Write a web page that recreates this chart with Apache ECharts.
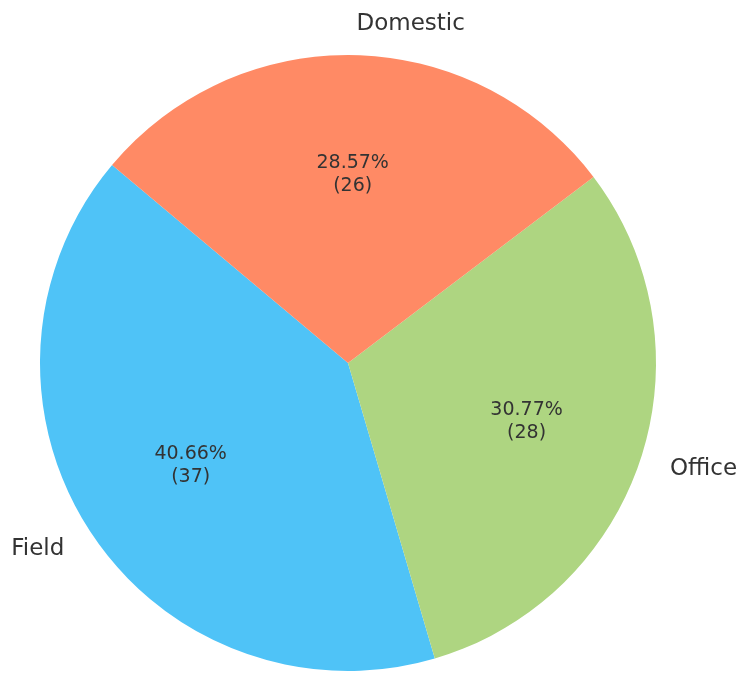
<!DOCTYPE html>
<html>
<head>
<meta charset="utf-8">
<script src="https://cdn.jsdelivr.net/npm/echarts@6/dist/echarts.min.js"></script>
<style>html,body{margin:0;padding:0;background:#fff;}#c{width:750px;height:689px;}</style>
</head>
<body>
<div id="c"></div>
<script>
const categories = ['Field', 'Office', 'Domestic'];
const values = [37, 28, 26];
const colors = ['#4FC3F7', '#AED581', '#FF8A65'];

const data = categories.map((n, i) => ({ name: n, value: values[i], itemStyle: { color: colors[i] } }));
const font = 'DejaVu Sans';
const R = 308;
const chart = echarts.init(document.getElementById('c'));
chart.setOption({
  animation: false,
  series: [
    {
      type: 'pie',
      center: [348, 363],
      radius: [0, R],
      startAngle: 140,
      clockwise: false,
      avoidLabelOverlap: false,
      data: data,
      silent: true,
      label: {
        show: true,
        position: 'outside',
        formatter: '{b}',
        fontFamily: font,
        fontSize: 23,
        color: '#333333',
        distanceToLabelLine: 0
      },
      labelLine: { show: false, length: 31, length2: 0 }
    },
    {
      type: 'pie',
      center: [348, 363],
      radius: [62, R],
      startAngle: 140,
      clockwise: false,
      avoidLabelOverlap: false,
      silent: true,
      data: categories.map((n, i) => ({ name: n, value: values[i] })),
      itemStyle: { color: 'rgba(0,0,0,0)' },
      label: {
        show: true,
        position: 'inside',
        formatter: '{d}%\n({c})',
        fontFamily: font,
        fontSize: 19,
        lineHeight: 23,
        color: '#333333',
        align: 'center'
      },
      labelLine: { show: false }
    }
  ]
});
</script>
</body>
</html>
